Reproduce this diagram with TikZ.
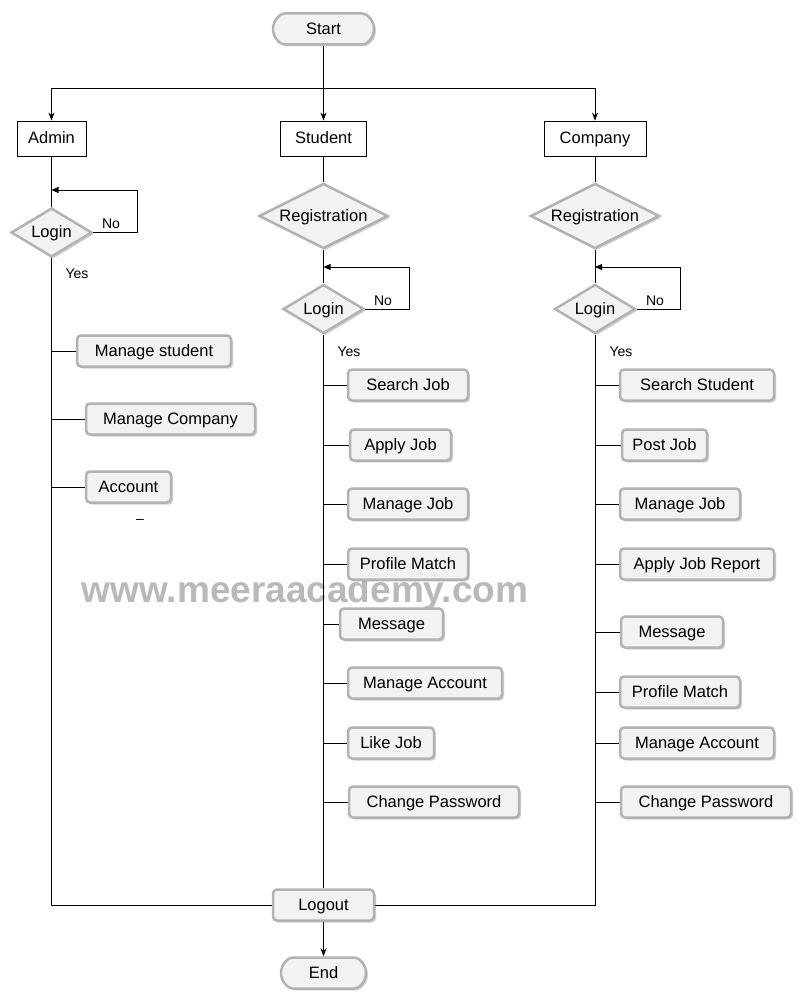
\documentclass[tikz,border=0pt]{standalone}
\usepackage{fontspec}
\setmainfont{Liberation Sans}
\usetikzlibrary{shapes.geometric,shapes.misc,arrows.meta,shadows}

\begin{document}
\begin{tikzpicture}[x=1pt,y=-1pt,
        font=\fontsize{16.5}{18}\selectfont,
        line width=0.8pt,
        actor/.style={draw, rectangle, minimum height=35pt, inner sep=0pt, text height=13pt, text depth=2.5pt},
        task/.style={rectangle, rounded corners=4pt, draw=gray!60, line width=2.5pt, fill=gray!10,
            minimum height=31pt, inner sep=0pt, text height=13pt, text depth=2.5pt,
            drop shadow={shadow xshift=2pt, shadow yshift=-2pt, opacity=0.35}},
        terminal/.style={task, rounded rectangle},
        decision/.style={task, diamond, rounded corners=0pt},
        small/.style={font=\fontsize{14}{16}\selectfont},
        arr/.style={-{Stealth[length=8pt,width=6pt]}},
        back/.style={-{Triangle[length=7pt,width=6pt]}}]
        \useasboundingbox (0,0) rectangle (799,998);

        % watermark
        \node[font=\bfseries\fontsize{37}{40}\selectfont, text=gray!55] (mark) at (305,593) {www.meeraacademy.com};

        \node[terminal, minimum width=101pt] (start) at (323.5,29) {Start};
        \coordinate (split) at (323.5,88);

        \node[actor, minimum width=69pt] (admin) at (51.5,138.5) {Admin};
        \node[actor, minimum width=86pt] (student) at (323.5,138.5) {Student};
        \node[actor, minimum width=102pt] (company) at (595,138.5) {Company};

        \draw (start.south) -- (split);
        \draw[arr] (split) -| (admin.north);
        \draw[arr] (split) -- (student.north);
        \draw[arr] (split) -| (company.north);

        % admin
        \node[decision, shape aspect=1.65, minimum width=81pt, minimum height=49pt] (admLogin) at (51.5,232.5) {Login};
        \coordinate (admLoop) at (51.5,190);
        \draw (admin.south) -- (admLogin.north);
        \draw[back] (admLogin.east) -- ++(44,0) |- (admLoop);
        \node[small] (admNo) at (111,224) {No};
        \node[small] (admYes) at (77,274) {Yes};

        \foreach \nm/\y/\cx/\w/\txt in {aStudent/351/154/154/Manage student,
                aCompany/419/170.5/169/Manage Company,
                aAccount/487/128.5/85/Account} {
            \node[task, minimum width=\w pt] (\nm) at (\cx,\y) {\txt};
            \draw (\nm.west) -- (\nm.west -| admLogin.south);
        }
        \node[small] (dash) at (140,521) {--};

        % student
        \node[decision, shape aspect=2, minimum width=129pt, minimum height=65pt] (stuReg) at (323.5,216) {Registration};
        \node[decision, shape aspect=1.65, minimum width=81pt, minimum height=49pt] (stuLogin) at (323.5,309) {Login};
        \coordinate (stuLoop) at (323.5,267);
        \draw (student.south) -- (stuReg.north);
        \draw (stuReg.south) -- (stuLogin.north);
        \draw[back] (stuLogin.east) -- ++(44,0) |- (stuLoop);
        \node[small] (stuNo) at (383,301) {No};
        \node[small] (stuYes) at (349,352) {Yes};

        \foreach \nm/\y/\cx/\w/\txt in {sSearch/385/408/120/Search Job,
                sApply/445/400.5/101/Apply Job,
                sManage/504/408/120/Manage Job,
                sProfile/564/408/120/Profile Match,
                sMessage/624/391.5/103/Message,
                sAccount/683/425/154/Manage Account,
                sLike/743/391/86/Like Job,
                sPassword/802/434/170/Change Password} {
            \node[task, minimum width=\w pt] (\nm) at (\cx,\y) {\txt};
            \draw (\nm.west) -- (\nm.west -| stuLogin.south);
        }

        % company
        \node[decision, shape aspect=2, minimum width=129pt, minimum height=65pt] (comReg) at (595,216) {Registration};
        \node[decision, shape aspect=1.65, minimum width=81pt, minimum height=49pt] (comLogin) at (595,309) {Login};
        \coordinate (comLoop) at (595,267);
        \draw (company.south) -- (comReg.north);
        \draw (comReg.south) -- (comLogin.north);
        \draw[back] (comLogin.east) -- ++(44,0) |- (comLoop);
        \node[small] (comNo) at (655,301) {No};
        \node[small] (comYes) at (621,352) {Yes};

        \foreach \nm/\y/\cx/\w/\txt in {cSearch/385/697/154/Search Student,
                cPost/445/664.5/85/Post Job,
                cManage/504/680/120/Manage Job,
                cReport/564/697/154/Apply Job Report,
                cMessage/632/672/102/Message,
                cProfile/692/680/120/Profile Match,
                cAccount/743/697/154/Manage Account,
                cPassword/802/706/170/Change Password} {
            \node[task, minimum width=\w pt] (\nm) at (\cx,\y) {\txt};
            \draw (\nm.west) -- (\nm.west -| comLogin.south);
        }

        % logout and end
        \node[task, minimum width=101pt] (logout) at (323.5,905) {Logout};
        \node[terminal, minimum width=85pt] (end) at (323.5,973) {End};
        \draw (admLogin.south) |- (logout.west);
        \draw (stuLogin.south) -- (logout.north);
        \draw (comLogin.south) |- (logout.east);
        \draw[arr] (logout.south) -- (end.north);
    \end{tikzpicture}
\end{document}
